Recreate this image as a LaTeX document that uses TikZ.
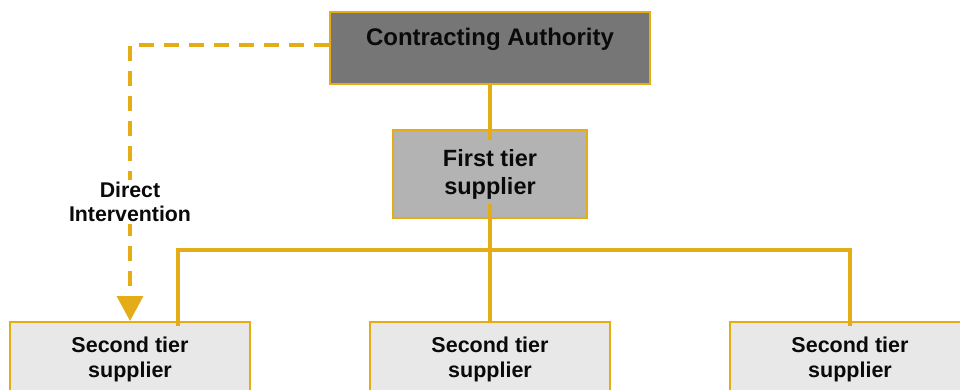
\documentclass[tikz,border=0pt]{standalone}
\usepackage{fontspec}
\setmainfont{Liberation Sans}
\usetikzlibrary{arrows.meta}
\definecolor{gold}{RGB}{228,172,22}
\definecolor{cafill}{RGB}{118,118,118}
\definecolor{ftfill}{RGB}{179,179,179}
\definecolor{stfill}{RGB}{232,232,232}
\definecolor{txt}{RGB}{10,10,10}
\tikzset{
  box/.style={draw=gold, line width=2pt, rectangle, inner sep=0pt, align=center, text=txt},
  cabox/.style={box, fill=cafill, minimum width=320pt, minimum height=72pt,
     font=\fontsize{24}{28}\selectfont\bfseries, text height=17pt, text depth=22pt},
  ftbox/.style={box, fill=ftfill, minimum width=194pt, minimum height=88pt,
     font=\fontsize{23.5}{28}\selectfont\bfseries},
  stbox/.style={box, fill=stfill, minimum width=240pt, minimum height=75pt,
     font=\fontsize{21.5}{24.5}\selectfont\bfseries},
  conn/.style={draw=gold, line width=3.5pt},
  dashconn/.style={draw=gold, line width=3.5pt, dash pattern=on 15pt off 10pt,
     -{Triangle[width=26pt,length=25pt]}},
  lbl/.style={fill=white, inner sep=2pt, align=center, text=txt,
     font=\fontsize{21.3}{23.5}\selectfont\bfseries}
}
\begin{document}
\begin{tikzpicture}[x=1pt,y=-1pt]
\useasboundingbox (0,0) rectangle (960,389);
\clip (0,0) rectangle (960,389);
\node[cabox] (ca) at (490,48) {Contracting Authority};
\node[ftbox] (ft) at (490,174) {First tier\\supplier};
\node[stbox] (left) at (130,359.5) {Second tier\\supplier};
\node[stbox] (mid) at (490,359.5) {Second tier\\supplier};
\node[stbox] (right) at (850,359.5) {Second tier\\supplier};
\coordinate (bus) at (490,250);
\draw[conn] (ca.south) -- ([yshift=-11pt]ft.north);
\draw[conn] ([yshift=15pt]ft.south) -- (mid.north);
\draw[conn] ([xshift=48pt,yshift=-5pt]left.north) |- (bus) -| ([yshift=-5pt]right.north);
\draw[dashconn] ([yshift=3pt]ca.west) -| (left.north);
\node[lbl] (di) at (130,202) {Direct\\Intervention};
\end{tikzpicture}
\end{document}
